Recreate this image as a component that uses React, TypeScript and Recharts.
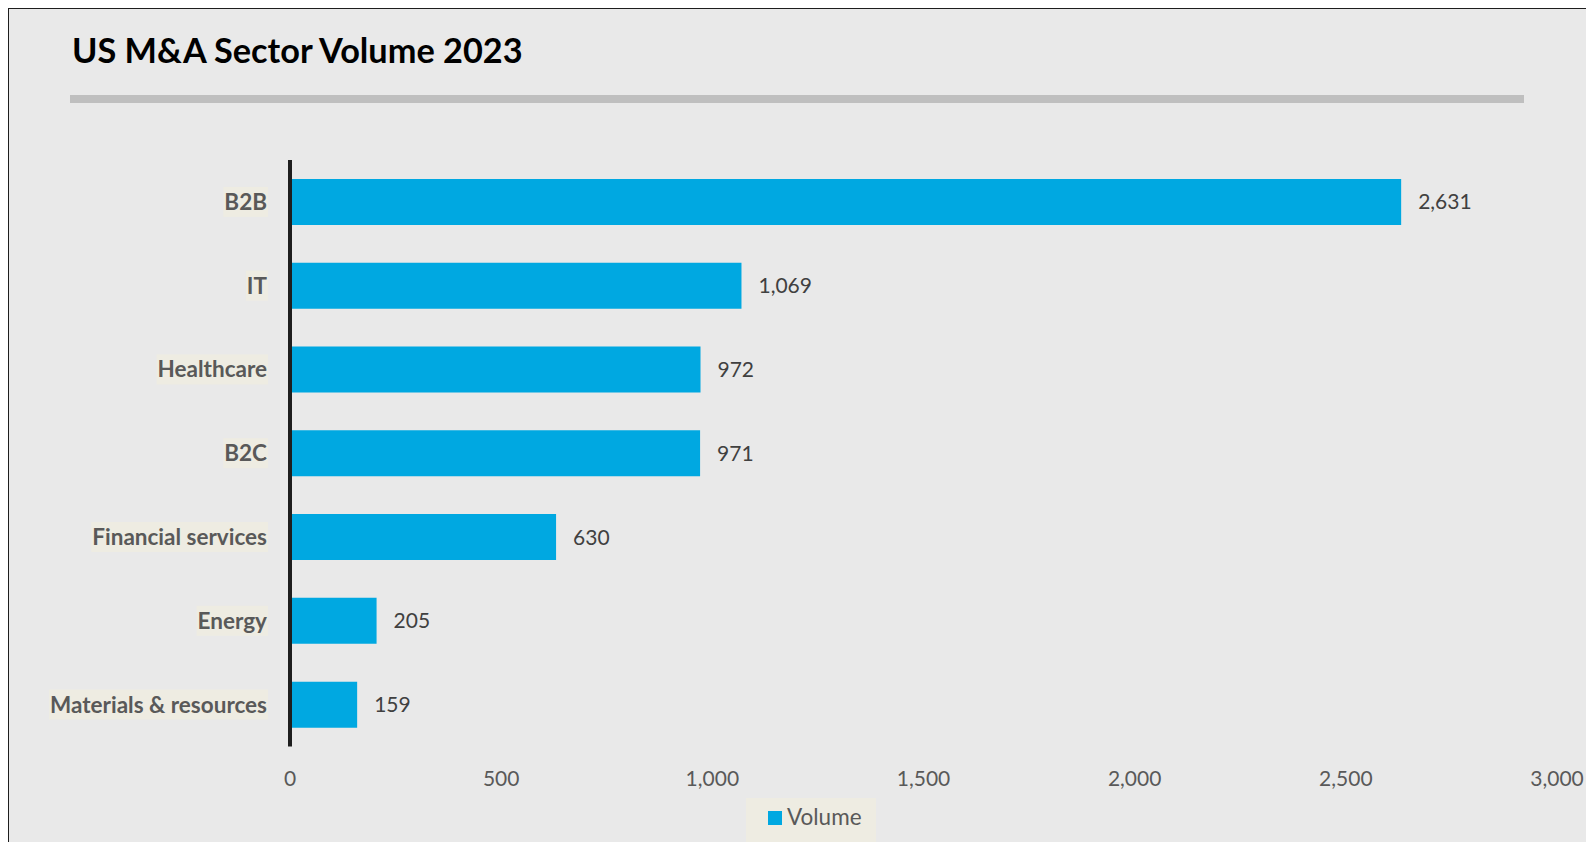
import React from 'react';
import { BarChart, Bar, XAxis, YAxis, LabelList } from 'recharts';

const categories = ['B2B', 'IT', 'Healthcare', 'B2C', 'Financial services', 'Energy', 'Materials & resources'];
const volumes = [2631, 1069, 972, 971, 630, 205, 159];
const xTicks = [0, 500, 1000, 1500, 2000, 2500, 3000];
const seriesName = 'Volume';
const titleText = 'US M&A Sector Volume 2023';

const data = categories.map((sector, i) => ({ sector, volume: volumes[i] }));

const FONT = 'Lato, "Open Sans", sans-serif';
const BAR_COLOR = '#00a8e1';
const LABEL_BG = '#eeece2';

const fmt = (v: number) => Number(v).toLocaleString('en-US');

let canvasCtx: CanvasRenderingContext2D | null = null;
const measure = (text: string, font: string) => {
  if (typeof document === 'undefined') return text.length * 10;
  if (!canvasCtx) canvasCtx = document.createElement('canvas').getContext('2d');
  if (!canvasCtx) return text.length * 10;
  canvasCtx.font = font;
  return canvasCtx.measureText(text).width;
};

const YTick = (props: any) => {
  const { x, y, payload } = props;
  const fs = 22.5;
  const w = measure(String(payload.value), `bold ${fs}px Lato`);
  const right = x - 23;
  return (
    <g>
      <rect x={right - w - 1} y={y - 15} width={w + 2} height={30} fill={LABEL_BG} />
      <text
        x={right}
        y={y}
        dy={8}
        textAnchor="end"
        fontFamily={FONT}
        fontWeight={700}
        fontSize={fs}
        fill="#595959"
      >
        {payload.value}
      </text>
    </g>
  );
};

export default function App() {
  return (
    <div
      style={{
        position: 'relative',
        width: 1586,
        height: 834,
        background: '#e9e9e9',
        overflow: 'hidden',
        fontFamily: FONT,
      }}
    >
      <div style={{ position: 'absolute', left: 0, top: 0, width: 1, height: 834, background: '#1e1e1e' }} />
      <div style={{ position: 'absolute', left: 0, top: 0, width: 1586, height: 1, background: '#1e1e1e' }} />
      <div
        style={{
          position: 'absolute',
          left: 64,
          top: 25,
          fontSize: 34.3,
          lineHeight: 1,
          fontWeight: 700,
          color: '#000',
          whiteSpace: 'nowrap',
        }}
      >
        {titleText}
      </div>
      <div style={{ position: 'absolute', left: 62, top: 87, width: 1454, height: 8, background: '#bfbfbf' }} />
      <div style={{ position: 'absolute', left: 0, top: 0 }}>
        <BarChart
          width={1586}
          height={834}
          data={data}
          layout="vertical"
          margin={{ top: 152, right: 37, bottom: 65.6, left: 0 }}
          barSize={46}
        >
          <XAxis
            type="number"
            domain={[0, 3000]}
            ticks={xTicks}
            tickFormatter={fmt}
            axisLine={false}
            tickLine={false}
            tickSize={0}
            tickMargin={25}
            height={30}
            interval={0}
            tick={{ fill: '#595959', fontSize: 21, fontFamily: FONT }}
          />
          <Bar dataKey="volume" name={seriesName} fill={BAR_COLOR} isAnimationActive={false}>
            <LabelList
              dataKey="volume"
              position="right"
              offset={17}
              formatter={(v: any) => fmt(v)}
              fill="#404040"
              fontSize={21}
              fontFamily={FONT}
            />
          </Bar>
          <YAxis
            type="category"
            dataKey="sector"
            width={282}
            tickLine={false}
            tickSize={0}
            tickMargin={0}
            axisLine={{ stroke: '#1e1e1e', strokeWidth: 4 }}
            tick={<YTick />}
            interval={0}
          />
        </BarChart>
      </div>
      <div
        style={{
          position: 'absolute',
          left: 738,
          top: 790,
          width: 130,
          height: 50,
          background: LABEL_BG,
        }}
      >
        <div style={{ position: 'absolute', left: 22, top: 13, width: 14, height: 14, background: BAR_COLOR }} />
        <div
          style={{
            position: 'absolute',
            left: 41,
            top: 6,
            fontSize: 22.5,
            lineHeight: '26px',
            color: '#595959',
            whiteSpace: 'nowrap',
          }}
        >
          {seriesName}
        </div>
      </div>
    </div>
  );
}
